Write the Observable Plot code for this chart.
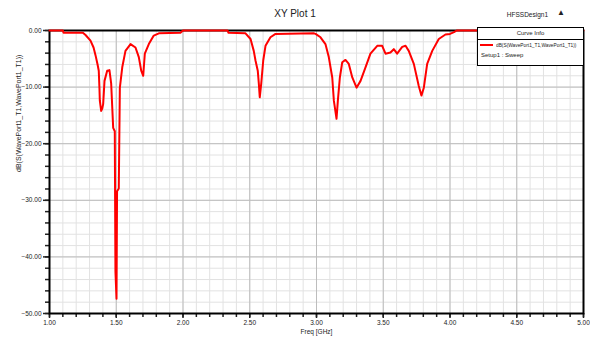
<!DOCTYPE html>
<html>
<head>
<meta charset="utf-8">
<script src="https://cdn.jsdelivr.net/npm/d3@7"></script>
<script src="https://cdn.jsdelivr.net/npm/@observablehq/plot@0.6"></script>
<style>
  html, body { margin: 0; padding: 0; background: #fff; }
  #wrap { position: relative; width: 590px; height: 338px; font-family: "Liberation Sans", Arial, sans-serif; color: #222; }
  #wrap svg { position: absolute; left: 0; top: 0; }
  .title { position: absolute; left: 0; width: 590px; top: 8px; text-align: center; font-size: 10px; }
  .design { position: absolute; right: 42px; top: 11px; font-size: 6.5px; }
  .logo { position: absolute; left: 557px; top: 8px; font-size: 8px; }
  .legend { position: absolute; left: 477px; top: 27px; width: 105px; height: 37px; border: 1.5px solid #000; background: #fff; font-size: 6px; }
  .legend .hd { height: 11px; line-height: 11px; text-align: center; border-bottom: 1.5px solid #000; }
  .legend .row { position: relative; height: 10px; line-height: 10px; white-space: nowrap; overflow: hidden; }
  .legend .sw { position: absolute; left: 2px; top: 4px; width: 13px; border-top: 2.5px solid #f00; }
  .legend .tx { position: absolute; left: 18px; transform: scaleX(0.8); transform-origin: 0 50%; }
</style>
</head>
<body>
<div id="wrap">
  <div class="title">XY Plot 1</div>
  <div class="design">HFSSDesign1</div>
  <div class="logo">▲</div>
</div>
<script>
// ---- data ----
const freqGHz = [
  1.000, 1.100, 1.105, 1.250, 1.270, 1.307, 1.330, 1.345, 1.360, 1.369, 1.374, 1.377, 1.387, 1.395, 1.402, 1.412,
  1.432, 1.449, 1.462, 1.477, 1.489, 1.494, 1.502, 1.506, 1.519, 1.527, 1.545, 1.569, 1.607, 1.644, 1.669, 1.687,
  1.702, 1.714, 1.744, 1.781, 1.819, 1.981, 2.000, 2.333, 2.341, 2.468, 2.506, 2.530, 2.543, 2.560, 2.568, 2.575,
  2.586, 2.601, 2.618, 2.655, 2.693, 2.978, 2.993, 3.030, 3.067, 3.092, 3.118, 3.130, 3.150, 3.160, 3.175, 3.193,
  3.217, 3.242, 3.268, 3.300, 3.330, 3.367, 3.404, 3.455, 3.492, 3.517, 3.554, 3.579, 3.604, 3.642, 3.667, 3.691,
  3.729, 3.766, 3.786, 3.804, 3.829, 3.867, 3.916, 3.966, 4.000, 4.030, 4.050, 5.000
];
const s11dB = [
  0, 0, -0.4, -0.4, -0.8, -1.8, -3.0, -4.4, -6.0, -7.1, -10.1, -12.4, -14.2, -13.8, -13.0, -8.9,
  -7.1, -7.0, -9.4, -17.2, -17.8, -42.6, -47.4, -28.4, -27.9, -10.1, -6.5, -3.6, -2.4, -3.0, -4.7, -7.1,
  -8.0, -4.1, -2.4, -0.9, -0.5, -0.4, 0, 0, -0.4, -0.5, -1.5, -3.6, -5.3, -7.1, -9.4, -11.8,
  -9.4, -5.3, -2.7, -1.2, -0.6, -0.5, -0.6, -1.2, -2.4, -4.7, -8.3, -12.4, -15.6, -12.4, -8.3, -5.6,
  -5.2, -5.9, -8.3, -10.1, -8.9, -6.5, -4.1, -2.7, -2.7, -4.1, -3.9, -3.3, -4.1, -2.9, -2.7, -3.6,
  -5.9, -9.8, -11.5, -10.1, -5.9, -3.6, -1.5, -0.7, -0.6, -0.3, 0, 0
];
const xMajorTicks = [1.0, 1.5, 2.0, 2.5, 3.0, 3.5, 4.0, 4.5, 5.0];
const yMajorTicks = [0, -10, -20, -30, -40, -50];
const xMinorTicks = d3.range(10, 51).map(d => d / 10);
const yMinorTicks = d3.range(0, 51, 2).map(d => -d);
const yLabel = "dB(S(WavePort1_T1,WavePort1_T1))";
const xLabel = "Freq [GHz]";
const legendTitle = "Curve Info";
const legendEntry = "dB(S(WavePort1_T1,WavePort1_T1))";
const legendSetup = "Setup1 : Sweep";

const data = freqGHz.map((f, i) => ({f, v: s11dB[i]}));
const fmt = d3.format(".2f");

const chart = Plot.plot({
  width: 590, height: 338,
  marginLeft: 49, marginRight: 7, marginTop: 30, marginBottom: 25,
  x: {domain: [1, 5]},
  y: {domain: [-50, 0]},
  style: {fontFamily: "Liberation Sans, Arial, sans-serif", fontSize: "7px", color: "#222", background: "transparent", overflow: "visible"},
  marks: [
    Plot.gridX(xMinorTicks, {stroke: "#e2e2e2", strokeOpacity: 1, strokeWidth: 1}),
    Plot.gridY(yMinorTicks, {stroke: "#e2e2e2", strokeOpacity: 1, strokeWidth: 1}),
    Plot.gridX(xMajorTicks, {stroke: "#bdbdbd", strokeOpacity: 1, strokeWidth: 1}),
    Plot.gridY(yMajorTicks, {stroke: "#bdbdbd", strokeOpacity: 1, strokeWidth: 1}),
    Plot.axisX(xMinorTicks, {tickSize: 4, strokeWidth: 1.5, text: null, label: null}),
    Plot.axisX(xMajorTicks, {tickSize: 5, strokeWidth: 1.5, tickPadding: 2, tickFormat: fmt, label: null, fontSize: 6.5}),
    Plot.axisY(yMinorTicks, {tickSize: 4, strokeWidth: 1.5, text: null, label: null}),
    Plot.axisY(yMajorTicks, {tickSize: 6, strokeWidth: 1.5, tickPadding: 2, tickFormat: fmt, label: null, fontSize: 6.5}),
    Plot.frame({stroke: "#000", strokeWidth: 2}),
    Plot.line(data, {x: "f", y: "v", stroke: "#ff0000", strokeWidth: 2}),
    Plot.text([xLabel], {frameAnchor: "bottom", dy: 20, fontSize: 6.5}),
    Plot.text([yLabel], {frameAnchor: "left", dx: -31, rotate: -90, fontSize: 7})
  ]
});
const wrap = document.getElementById("wrap");
wrap.insertBefore(chart, wrap.firstChild);

const lg = document.createElement("div");
lg.className = "legend";
lg.innerHTML = `<div class="hd"></div><div class="row"><span class="sw"></span><span class="tx"></span></div><div class="row" style="padding-left:3px"></div>`;
lg.querySelector(".hd").textContent = legendTitle;
lg.querySelector(".tx").textContent = legendEntry;
lg.querySelectorAll(".row")[1].textContent = legendSetup;
wrap.appendChild(lg);
</script>
</body>
</html>
